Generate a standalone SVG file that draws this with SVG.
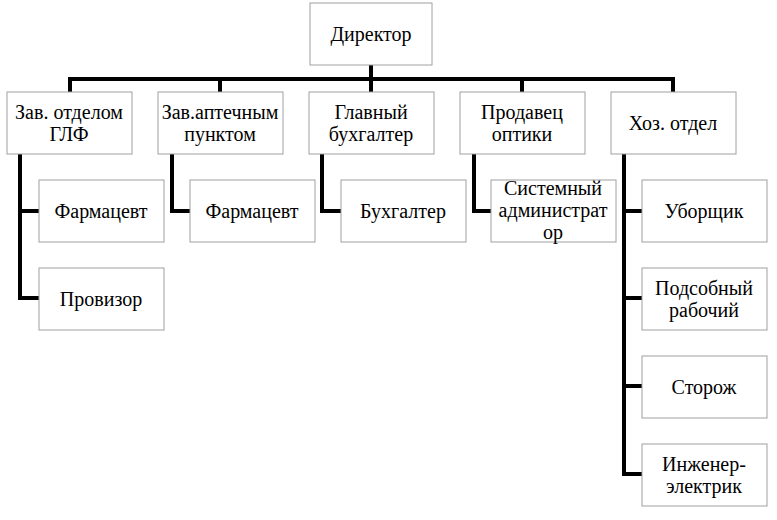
<svg xmlns="http://www.w3.org/2000/svg" width="777" height="520" viewBox="0 0 777 520">
<style>
.b rect{fill:#fff;stroke:#a0a0a0;stroke-width:1}
text{font-family:'Liberation Serif','Times New Roman','DejaVu Serif',serif;font-size:20px;fill:#000;text-anchor:middle}
#c path{fill:none;stroke:#000;stroke-width:4}
</style>
<rect width="777" height="520" fill="#fff"/>
<g id="c">
<path d="M371 65V79M70 79H675M70 77V92M220 79V92M371 79V92M522 79V92M673 77V92"/>
<path d="M20 154V298H39M20 211H39"/>
<path d="M172 154V211H190"/>
<path d="M322 154V211H341"/>
<path d="M474 154V211H491"/>
<path d="M624 154V474H642M624 211H642M624 298H642M624 386H642"/>
</g>
<g id="n0" class="b"><rect x="310" y="3" width="122" height="62"/><text x="371" y="41">Директор</text></g>
<g id="n1" class="b"><rect x="7" y="92" width="125" height="62"/><text x="69" y="119">Зав. отделом</text><text x="69" y="141">ГЛФ</text></g>
<g id="n2" class="b"><rect x="158" y="92" width="125" height="62"/><text x="220" y="119">Зав.аптечным</text><text x="220" y="141">пунктом</text></g>
<g id="n3" class="b"><rect x="309" y="92" width="125" height="62"/><text x="371" y="119">Главный</text><text x="371" y="141">бухгалтер</text></g>
<g id="n4" class="b"><rect x="460" y="92" width="125" height="62"/><text x="522" y="119">Продавец</text><text x="522" y="141">оптики</text></g>
<g id="n5" class="b"><rect x="611" y="92" width="125" height="62"/><text x="673" y="130">Хоз. отдел</text></g>
<g id="n6" class="b"><rect x="39" y="180" width="125" height="62"/><text x="101" y="218">Фармацевт</text></g>
<g id="n7" class="b"><rect x="39" y="268" width="125" height="62"/><text x="101" y="306">Провизор</text></g>
<g id="n8" class="b"><rect x="190" y="180" width="125" height="62"/><text x="252" y="218">Фармацевт</text></g>
<g id="n9" class="b"><rect x="341" y="180" width="125" height="62"/><text x="403" y="218">Бухгалтер</text></g>
<g id="n10" class="b"><rect x="491" y="180" width="125" height="62"/><text x="553" y="195">Системный</text><text x="553" y="217">администрат</text><text x="553" y="239">ор</text></g>
<g id="n11" class="b"><rect x="642" y="180" width="125" height="62"/><text x="704" y="218">Уборщик</text></g>
<g id="n12" class="b"><rect x="642" y="268" width="125" height="62"/><text x="704" y="295">Подсобный</text><text x="704" y="317">рабочий</text></g>
<g id="n13" class="b"><rect x="642" y="356" width="125" height="62"/><text x="704" y="394">Сторож</text></g>
<g id="n14" class="b"><rect x="642" y="444" width="125" height="62"/><text x="704" y="471">Инженер-</text><text x="704" y="493">электрик</text></g>
</svg>
